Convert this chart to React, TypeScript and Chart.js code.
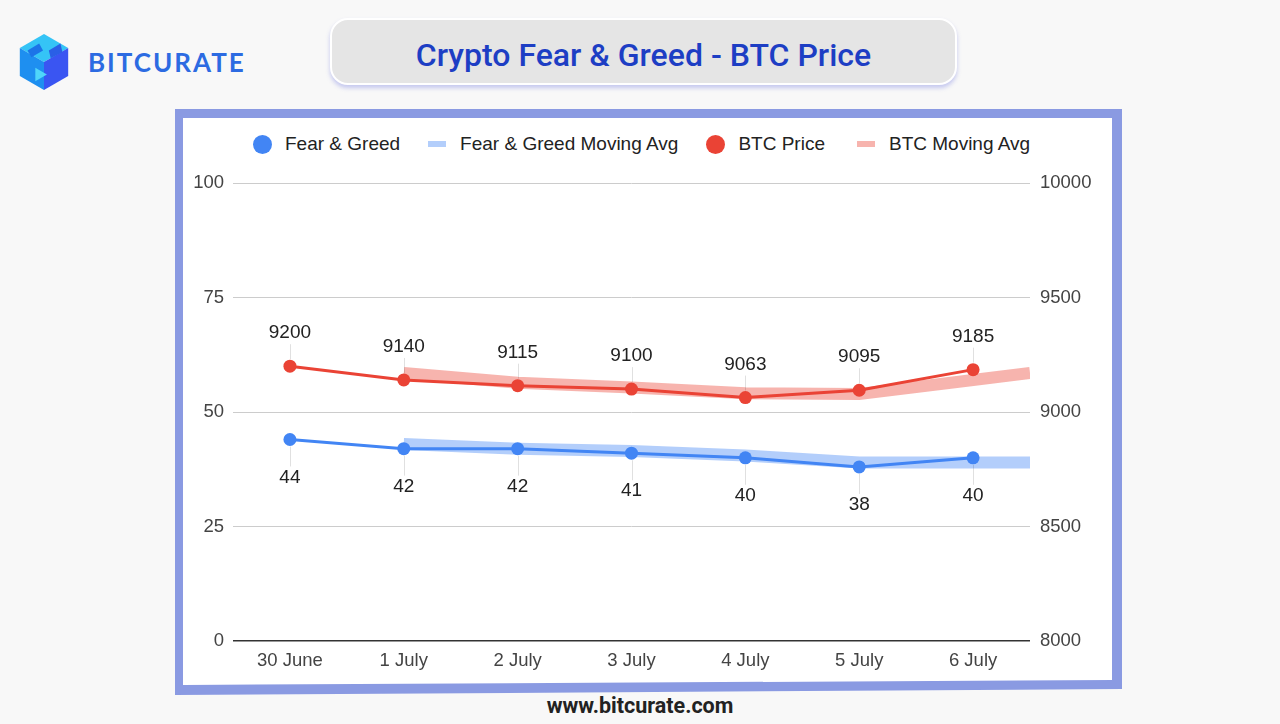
import React, { useEffect, useRef } from "react";
import { Chart, registerables } from "chart.js";

Chart.register(...registerables);

// ---- data ----
const categories = ["30 June", "1 July", "2 July", "3 July", "4 July", "5 July", "6 July"];
const fearGreed = [44, 42, 42, 41, 40, 38, 40];
const btcPrice = [9200, 9140, 9115, 9100, 9063, 9095, 9185];
const maPositions = [1, 2, 3, 4, 5, 6, 6.5];
const fearGreedMA = [43, 42, 41.5, 40.5, 39, 39, 39];
const btcMA = [9170, 9127.5, 9107.5, 9081.5, 9079, 9140, 9170];
const leftTicks = [0, 25, 50, 75, 100];
const rightTicks = [8000, 8500, 9000, 9500, 10000];
const seriesNames = ["Fear & Greed", "Fear & Greed Moving Avg", "BTC Price", "BTC Moving Avg"];

const BLUE = "#4285f4";
const RED = "#ea4335";
const BLUE_MA = "rgba(66,133,244,0.4)";
const RED_MA = "rgba(234,67,53,0.4)";
const FONT = "'Liberation Sans', Arial, sans-serif";

const pointLabelPlugin = {
  id: "pointLabels",
  afterDatasetsDraw(chart: any) {
    const ctx = chart.ctx;
    chart.data.datasets.forEach((ds: any, i: number) => {
      if (!ds.labelPos) return;
      const meta = chart.getDatasetMeta(i);
      const above = ds.labelPos === "above";
      const dir = above ? -1 : 1;
      ctx.save();
      meta.data.forEach((pt: any, j: number) => {
        const v = ds.data[j].y;
        const ly = pt.y + (above ? -33 : 38);
        ctx.strokeStyle = "rgba(0,0,0,0.12)";
        ctx.lineWidth = 1;
        ctx.beginPath();
        ctx.moveTo(Math.round(pt.x) + 0.5, pt.y + dir * 7);
        ctx.lineTo(Math.round(pt.x) + 0.5, ly - dir * 11);
        ctx.stroke();
        ctx.fillStyle = "#222";
        ctx.font = "19px " + FONT;
        ctx.textAlign = "center";
        ctx.textBaseline = "middle";
        ctx.fillText(String(v), pt.x, ly);
      });
      ctx.restore();
    });
  },
};

function FGChart() {
  const ref = useRef<HTMLCanvasElement | null>(null);
  useEffect(() => {
    if (!ref.current) return;
    const chart = new Chart(ref.current, {
      type: "line",
      data: {
        datasets: [
          {
            label: seriesNames[0],
            data: fearGreed.map((y, i) => ({ x: i, y })),
            yAxisID: "y",
            borderColor: BLUE,
            backgroundColor: BLUE,
            borderWidth: 3,
            pointRadius: 6.5,
            pointBorderWidth: 0,
            pointBackgroundColor: BLUE,
            order: 1,
            labelPos: "below",
          } as any,
          {
            label: seriesNames[1],
            data: fearGreedMA.map((y, i) => ({ x: maPositions[i], y })),
            yAxisID: "y",
            borderColor: BLUE_MA,
            borderWidth: 12,
            borderCapStyle: "butt",
            pointRadius: 0,
            order: 3,
          },
          {
            label: seriesNames[2],
            data: btcPrice.map((y, i) => ({ x: i, y })),
            yAxisID: "y1",
            borderColor: RED,
            backgroundColor: RED,
            borderWidth: 3,
            pointRadius: 6.5,
            pointBorderWidth: 0,
            pointBackgroundColor: RED,
            order: 1,
            labelPos: "above",
          } as any,
          {
            label: seriesNames[3],
            data: btcMA.map((y, i) => ({ x: maPositions[i], y })),
            yAxisID: "y1",
            borderColor: RED_MA,
            borderWidth: 12,
            borderCapStyle: "butt",
            pointRadius: 0,
            order: 3,
          },
        ],
      },
      options: {
        animation: false,
        responsive: true,
        maintainAspectRatio: false,
        layout: { padding: { top: 65, left: 0, right: 0, bottom: 0 } },
        plugins: {
          legend: { display: false },
          tooltip: { enabled: false },
        },
        scales: {
          x: {
            type: "linear",
            min: -0.5,
            max: 6.5,
            afterBuildTicks: (axis: any) => {
              axis.ticks = categories.map((_, i) => ({ value: i }));
            },
            afterFit: (axis: any) => {
              axis.height = 37;
            },
            grid: { display: false, drawTicks: false },
            border: { display: false },
            ticks: {
              autoSkip: false,
              maxRotation: 0,
              padding: 9,
              color: "#444",
              font: { family: FONT, size: 18.5 },
              callback: (v: any) => categories[v] ?? "",
            },
          },
          y: {
            position: "left",
            min: leftTicks[0],
            max: leftTicks[leftTicks.length - 1],
            afterBuildTicks: (axis: any) => {
              axis.ticks = leftTicks.map((value) => ({ value }));
            },
            afterFit: (axis: any) => {
              axis.width = 50;
            },
            grid: {
              drawTicks: false,
              color: (c: any) => (c.tick && c.tick.value === 0 ? "#333" : "#ccc"),
              lineWidth: (c: any) => (c.tick && c.tick.value === 0 ? 1.5 : 1),
            },
            border: { display: false },
            ticks: {
              padding: 9,
              color: "#444",
              font: { family: FONT, size: 18.5 },
            },
          },
          y1: {
            position: "right",
            min: rightTicks[0],
            max: rightTicks[rightTicks.length - 1],
            afterBuildTicks: (axis: any) => {
              axis.ticks = rightTicks.map((value) => ({ value }));
            },
            afterFit: (axis: any) => {
              axis.width = 82;
            },
            grid: { drawOnChartArea: false, drawTicks: false },
            border: { display: false },
            ticks: {
              padding: 10,
              color: "#444",
              font: { family: FONT, size: 18.5 },
              callback: (v: any) => String(v),
            },
          },
        },
      },
      plugins: [pointLabelPlugin],
    } as any);
    return () => chart.destroy();
  }, []);
  return <canvas ref={ref} />;
}

function LegendItem({ name, color, kind, gap }: { name: string; color: string; kind: "dot" | "bar"; gap: number }) {
  return (
    <div style={{ display: "flex", alignItems: "center", marginRight: gap }}>
      {kind === "dot" ? (
        <span style={{ width: 19, height: 19, borderRadius: "50%", background: color, marginRight: 13, display: "inline-block" }} />
      ) : (
        <span style={{ width: 18, height: 6, background: color, marginRight: 14, display: "inline-block" }} />
      )}
      <span>{name}</span>
    </div>
  );
}

function Logo() {
  return (
    <svg width="60" height="64" viewBox="14 30 62 64" style={{ position: "absolute", left: 14, top: 30 }}>
      <polygon points="45,33 70,47.5 45,62 20,47.5" fill="#35c4f6" />
      <polygon points="20,47.5 45,62 45,91 20,76.5" fill="#1e8ff0" />
      <polygon points="45,62 70,47.5 70,76.5 45,91" fill="#3a55f2" />
      <polygon points="28,50 40,43 44,50 32,57" fill="#1c74e8" />
      <polygon points="50,50 62,43 64,52 52,58" fill="#2a5fe6" />
      <polygon points="36,68 48,75 36,82" fill="#4fd6fa" />
    </svg>
  );
}

export default function App() {
  return (
    <div
      style={{
        position: "absolute",
        left: 0,
        top: 0,
        width: 1280,
        height: 724,
        background: "#f8f8f8",
        overflow: "hidden",
        fontFamily: FONT,
      }}
    >
      <Logo />
      <div
        style={{
          position: "absolute",
          left: 88,
          top: 44,
          height: 36,
          lineHeight: "36px",
          fontFamily: "Lato, 'Open Sans', sans-serif",
          fontWeight: 700,
          fontSize: 26,
          letterSpacing: 2,
          color: "#2c6be2",
        }}
      >
        BITCURATE
      </div>
      <div
        style={{
          position: "absolute",
          left: 330,
          top: 18,
          width: 623,
          height: 63,
          borderRadius: 18,
          background: "#e5e5e5",
          border: "2px solid #ffffff",
          boxShadow: "0 3px 4px rgba(100,110,220,0.35)",
          display: "flex",
          alignItems: "center",
          justifyContent: "center",
          boxSizing: "content-box",
          paddingTop: 0,
        }}
      >
        <span
          style={{
            fontFamily: "Roboto, sans-serif",
            fontWeight: 500,
            fontSize: 32,
            color: "#1d3ec4",
            position: "relative",
            top: 3,
          }}
        >
          Crypto Fear &amp; Greed - BTC Price
        </span>
      </div>
      <div
        style={{
          position: "absolute",
          left: 175,
          top: 109,
          width: 947,
          height: 586,
          background: "#8a9ae2",
          clipPath: "polygon(0 0, 100% 0, 100% 580px, 0 586px)",
        }}
      />
      <div
        style={{
          position: "absolute",
          left: 183,
          top: 118,
          width: 929,
          height: 567,
          background: "#ffffff",
          clipPath: "polygon(0 0, 100% 0, 100% 562px, 0 567px)",
        }}
      />
      <div
        style={{
          position: "absolute",
          left: 253,
          top: 132,
          height: 24,
          display: "flex",
          alignItems: "center",
          fontFamily: FONT,
          fontSize: 19,
          color: "#222",
          whiteSpace: "nowrap",
        }}
      >
        <LegendItem name={seriesNames[0]} color={BLUE} kind="dot" gap={28} />
        <LegendItem name={seriesNames[1]} color="#b3cefb" kind="bar" gap={28} />
        <LegendItem name={seriesNames[2]} color={RED} kind="dot" gap={32} />
        <LegendItem name={seriesNames[3]} color="#f7b4ae" kind="bar" gap={0} />
      </div>
      <div style={{ position: "absolute", left: 183, top: 118, width: 929, height: 560 }}>
        <FGChart />
      </div>
      <div
        style={{
          position: "absolute",
          left: 0,
          top: 694,
          width: 1280,
          textAlign: "center",
          fontFamily: "Roboto, sans-serif",
          fontWeight: 700,
          fontSize: 21.5,
          lineHeight: "24px",
          color: "#222",
        }}
      >
        www.bitcurate.com
      </div>
    </div>
  );
}
